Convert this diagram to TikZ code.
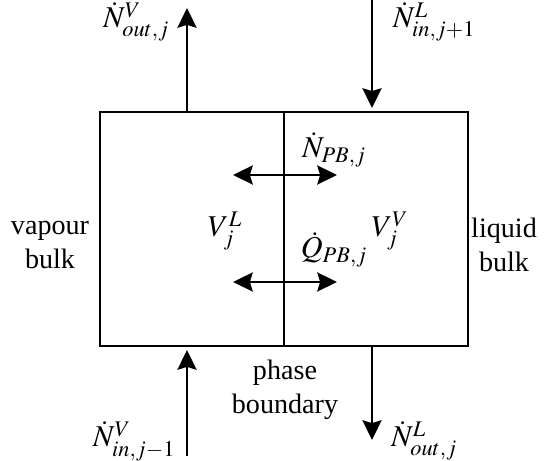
\documentclass[tikz,border=0pt]{standalone}
\usepackage{amsmath}
\usepackage{mathptmx}
\usepackage{fontspec}
\setmainfont{Liberation Serif}
\usetikzlibrary{calc, positioning, arrows.meta}

\begin{document}
\begin{tikzpicture}[
  flow/.style={line width=2pt, -{Stealth[length=14pt, width=13.5pt, inset=2pt]}},
  swap/.style={line width=2pt, {Stealth[length=14pt, width=13.5pt, inset=2pt]}-{Stealth[length=14pt, width=13.5pt, inset=2pt]}},
  lbl/.style={inner sep=0pt, anchor=base, font=\fontsize{21.5}{25}\selectfont},
  txt/.style={inner sep=0pt, align=center, font=\fontsize{20}{24.5}\selectfont}
]
\useasboundingbox (0,0) rectangle (13.65,11.525);

% Stage box and phase boundary
\coordinate (bl) at (2.5,2.875);
\coordinate (tr) at (11.7,8.725);
\coordinate (pbtop) at (7.1,8.725);
\coordinate (pbbot) at (7.1,2.875);
\draw[line width=2pt] (bl) rectangle (tr);
\draw[line width=2pt] (pbtop) -- (pbbot);

% Streams in and out
\coordinate (voutA) at (4.675,8.725);
\coordinate (voutB) at (4.675,11.325);
\coordinate (linA) at (9.3,11.525);
\coordinate (linB) at (9.3,8.825);
\coordinate (vinA) at (4.675,0.125);
\coordinate (vinB) at (4.675,2.775);
\coordinate (loutA) at (9.3,2.875);
\coordinate (loutB) at (9.3,0.525);
\draw[flow] (voutA) -- (voutB);
\draw[flow] (linA) -- (linB);
\draw[flow] (vinA) -- (vinB);
\draw[flow] (loutA) -- (loutB);

% Transfer across the boundary
\coordinate (nL) at (5.825,7.15);
\coordinate (nR) at (8.425,7.15);
\coordinate (qL) at (5.825,4.475);
\coordinate (qR) at (8.425,4.475);
\draw[swap] (nL) -- (nR);
\draw[swap] (qL) -- (qR);

% Labels
\node[lbl] (voutlbl) at (3.4,10.825) {$\dot{N}^{V}_{out,j}$};
\node[lbl] (linlbl) at (10.85,10.825) {$\dot{N}^{L}_{in,j+1}$};
\node[lbl] (npblbl) at (8.35,7.575) {$\dot{N}_{PB,j}$};
\node[lbl] (qpblbl) at (8.35,5.075) {$\dot{Q}_{PB,j}$};
\node[lbl] (vliq) at (5.625,5.6) {$V^{L}_{j}$};
\node[lbl] (vvap) at (9.75,5.6) {$V^{V}_{j}$};
\node[txt] (vapbulk) at (1.25,5.4) {vapour\\bulk};
\node[txt] (liqbulk) at (12.6,5.4) {liquid\\bulk};
\node[txt] (pblbl) at (7.125,1.775) {phase\\boundary};
\node[lbl] (vinlbl) at (3.35,0.35) {$\dot{N}^{V}_{in,j-1}$};
\node[lbl] (loutlbl) at (10.6,0.35) {$\dot{N}^{L}_{out,j}$};
\end{tikzpicture}
\end{document}
